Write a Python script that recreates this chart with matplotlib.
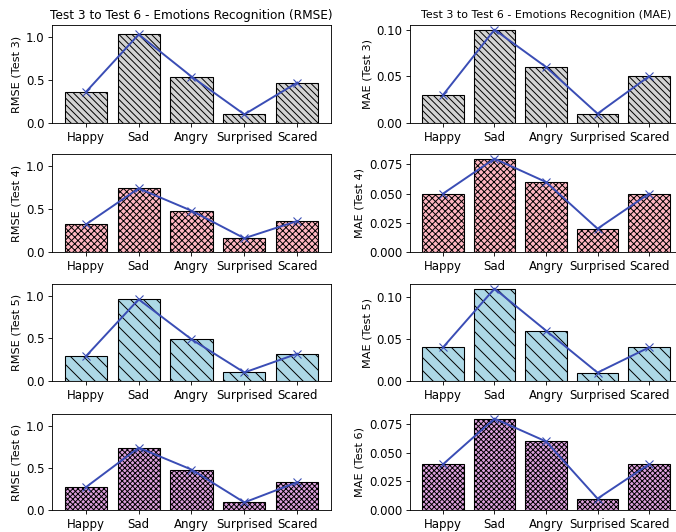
import matplotlib.pyplot as plt

emotions = ['Happy', 'Sad', 'Angry', 'Surprised', 'Scared']
tests = ['Test 3', 'Test 4', 'Test 5', 'Test 6']

rmse_t3 = [0.36, 1.03, 0.54, 0.10, 0.47]
rmse_t4 = [0.32, 0.74, 0.48, 0.16, 0.36]
rmse_t5 = [0.29, 0.96, 0.49, 0.10, 0.32]
rmse_t6 = [0.27, 0.74, 0.48, 0.09, 0.33]

mae_t3 = [0.03, 0.10, 0.06, 0.01, 0.05]
mae_t4 = [0.05, 0.08, 0.06, 0.02, 0.05]
mae_t5 = [0.04, 0.11, 0.06, 0.01, 0.04]
mae_t6 = [0.04, 0.08, 0.06, 0.01, 0.04]

rmse = [rmse_t3, rmse_t4, rmse_t5, rmse_t6]
mae = [mae_t3, mae_t4, mae_t5, mae_t6]
colors = ['lightgrey', 'lightpink', 'lightblue', 'plum']
hatches = ['\\\\\\\\', 'xxxx', '\\\\', 'xxxxx']
line_color = '#3a4db5'

W, H = 676, 532
DPI = 78
plt.rcParams['hatch.linewidth'] = 0.9
plt.rcParams['xtick.labelsize'] = 10.8
plt.rcParams['ytick.labelsize'] = 10.9
fig = plt.figure(figsize=(W / DPI, H / DPI), dpi=DPI)

# axes boxes in pixels: (left, right) per column, (top, bottom) per row
cols = [(52, 331), (410, 682)]
rows = [(25, 123), (154, 252), (284, 381), (414, 510)]

for i in range(4):
    for j, (data, name) in enumerate([(rmse, 'RMSE'), (mae, 'MAE')]):
        l, r = cols[j]
        t, b = rows[i]
        ax = fig.add_axes([l / W, 1 - b / H, (r - l) / W, (b - t) / H])
        ax.bar(emotions, data[i], color=colors[i], edgecolor='black',
               hatch=hatches[i], linewidth=1)
        ax.plot(emotions, data[i], color=line_color, marker='x', linewidth=1.8,
                markersize=7)
        ax.set_ylabel(f'{name} ({tests[i]})', fontsize=10.4)
        if name == 'RMSE':
            ax.set_ylim(0, 1.14)
        if i == 0:
            if name == 'RMSE':
                ax.set_title('Test 3 to Test 6 - Emotions Recognition (RMSE)', fontsize=11.2)
            else:
                ax.set_title('Test 3 to Test 6 - Emotions Recognition (MAE)', fontsize=10.2)

fig.savefig('out.png', dpi=DPI)
